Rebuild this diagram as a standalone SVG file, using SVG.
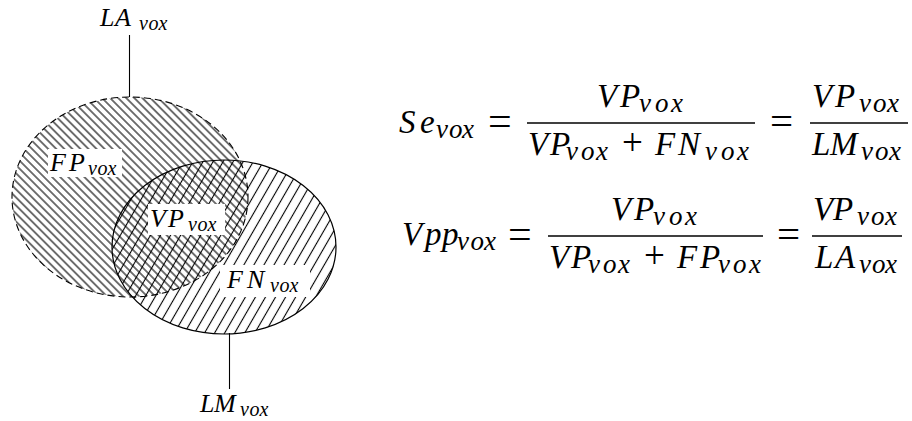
<svg xmlns="http://www.w3.org/2000/svg" width="912" height="421" viewBox="0 0 912 421">
<defs>
<pattern id="hatchLA" width="5.7" height="10" patternUnits="userSpaceOnUse" patternTransform="rotate(-45)">
<line x1="2.85" y1="0" x2="2.85" y2="10" stroke="#000" stroke-width="1.1"/>
</pattern>
<pattern id="hatchLM" width="8.7" height="10" patternUnits="userSpaceOnUse" patternTransform="rotate(30)">
<line x1="4.35" y1="0" x2="4.35" y2="10" stroke="#000" stroke-width="1.1"/>
</pattern>
</defs>
<rect width="912" height="421" fill="#fff"/>

<g id="connectors" stroke="#000" stroke-width="1.1">
<line x1="129.5" y1="35" x2="129.5" y2="97"/>
<line x1="229.5" y1="333" x2="229.5" y2="389"/>
</g>

<g id="LA">
<ellipse cx="130" cy="197" rx="118" ry="100" fill="url(#hatchLA)"/>
</g>
<g id="LM">
<ellipse cx="224" cy="247" rx="112" ry="87" fill="url(#hatchLM)"/>
</g>
<g id="outlines" fill="none" stroke="#000">
<ellipse cx="130" cy="197" rx="118" ry="100" stroke-width="1.1" stroke-dasharray="7 4"/>
<ellipse cx="224" cy="247" rx="112" ry="87" stroke-width="1.2"/>
</g>

<g id="label-LA">
<text font-family="'Liberation Serif', serif" font-style="italic" font-size="26" x="100 115" y="26">LA</text>
<text font-family="'Liberation Serif', serif" font-style="italic" font-size="20" x="139 148.5 158.5" y="30">vox</text>
</g>
<g id="label-FP">
<rect fill="#fff" x="48" y="149" width="74" height="28"/>
<text font-family="'Liberation Serif', serif" font-style="italic" font-size="26" x="50 69" y="171">FP</text>
<text font-family="'Liberation Serif', serif" font-style="italic" font-size="20" x="88 97.5 107.5" y="175">vox</text>
</g>
<g id="label-VP">
<rect fill="#fff" x="148" y="204" width="77" height="31"/>
<text font-family="'Liberation Serif', serif" font-style="italic" font-size="26" x="150 168" y="227">VP</text>
<text font-family="'Liberation Serif', serif" font-style="italic" font-size="20" x="188 197.5 207.5" y="231">vox</text>
</g>
<g id="label-FN">
<rect fill="#fff" x="220" y="265" width="90" height="32"/>
<text font-family="'Liberation Serif', serif" font-style="italic" font-size="26" x="227 247" y="288">FN</text>
<text font-family="'Liberation Serif', serif" font-style="italic" font-size="20" x="270 279.5 289.5" y="292">vox</text>
</g>
<g id="label-LM">
<text font-family="'Liberation Serif', serif" font-style="italic" font-size="26" x="200 214" y="412">LM</text>
<text font-family="'Liberation Serif', serif" font-style="italic" font-size="20" x="240 249.5 259.5" y="416">vox</text>
</g>

<g id="eq-Se">
<text font-family="'Liberation Serif', serif" font-style="italic" font-size="33" x="399 420" y="133">Se</text>
<text font-family="'Liberation Serif', serif" font-style="italic" font-size="27" x="436 449 462" y="138">vox</text>
<text font-family="'Liberation Serif', serif" font-size="42" x="488" y="135">=</text>
<text font-family="'Liberation Serif', serif" font-style="italic" font-size="33" x="597 620" y="107">VP</text>
<text font-family="'Liberation Serif', serif" font-style="italic" font-size="27" x="639 655 671" y="112">vox</text>
<line stroke="#000" stroke-width="1.6" x1="527" y1="123" x2="755" y2="123"/>
<text font-family="'Liberation Serif', serif" font-style="italic" font-size="33" x="528 550" y="155">VP</text>
<text font-family="'Liberation Serif', serif" font-style="italic" font-size="27" x="566 581 596" y="160">vox</text>
<text font-family="'Liberation Serif', serif" font-size="37" x="622" y="155">+</text>
<text font-family="'Liberation Serif', serif" font-style="italic" font-size="33" x="655 678" y="155">FN</text>
<text font-family="'Liberation Serif', serif" font-style="italic" font-size="27" x="705 721 737" y="160">vox</text>
<text font-family="'Liberation Serif', serif" font-size="41" x="770" y="135">=</text>
<text font-family="'Liberation Serif', serif" font-style="italic" font-size="33" x="812 835" y="107">VP</text>
<text font-family="'Liberation Serif', serif" font-style="italic" font-size="27" x="859 873 887" y="112">vox</text>
<line stroke="#000" stroke-width="1.6" x1="810" y1="123" x2="908" y2="123"/>
<text font-family="'Liberation Serif', serif" font-style="italic" font-size="33" x="812 830" y="155">LM</text>
<text font-family="'Liberation Serif', serif" font-style="italic" font-size="27" x="861 875 889" y="160">vox</text>
</g>

<g id="eq-Vpp">
<text font-family="'Liberation Serif', serif" font-style="italic" font-size="33" x="402 425 442" y="245">Vpp</text>
<text font-family="'Liberation Serif', serif" font-style="italic" font-size="27" x="457 470.5 484" y="250">vox</text>
<text font-family="'Liberation Serif', serif" font-size="42" x="508" y="248">=</text>
<text font-family="'Liberation Serif', serif" font-style="italic" font-size="33" x="611 634" y="220">VP</text>
<text font-family="'Liberation Serif', serif" font-style="italic" font-size="27" x="653 669 685" y="225">vox</text>
<line stroke="#000" stroke-width="1.6" x1="548" y1="236" x2="763" y2="236"/>
<text font-family="'Liberation Serif', serif" font-style="italic" font-size="33" x="549 571" y="268">VP</text>
<text font-family="'Liberation Serif', serif" font-style="italic" font-size="27" x="588 603 618" y="273">vox</text>
<text font-family="'Liberation Serif', serif" font-size="37" x="644" y="268">+</text>
<text font-family="'Liberation Serif', serif" font-style="italic" font-size="33" x="677 700" y="268">FP</text>
<text font-family="'Liberation Serif', serif" font-style="italic" font-size="27" x="718 733 749" y="273">vox</text>
<text font-family="'Liberation Serif', serif" font-size="41" x="777" y="248">=</text>
<text font-family="'Liberation Serif', serif" font-style="italic" font-size="33" x="813 833" y="220">VP</text>
<text font-family="'Liberation Serif', serif" font-style="italic" font-size="27" x="857 871 885" y="225">vox</text>
<line stroke="#000" stroke-width="1.6" x1="812" y1="236" x2="902" y2="236"/>
<text font-family="'Liberation Serif', serif" font-style="italic" font-size="33" x="815 835" y="268">LA</text>
<text font-family="'Liberation Serif', serif" font-style="italic" font-size="27" x="859 872 885" y="273">vox</text>
</g>
</svg>
